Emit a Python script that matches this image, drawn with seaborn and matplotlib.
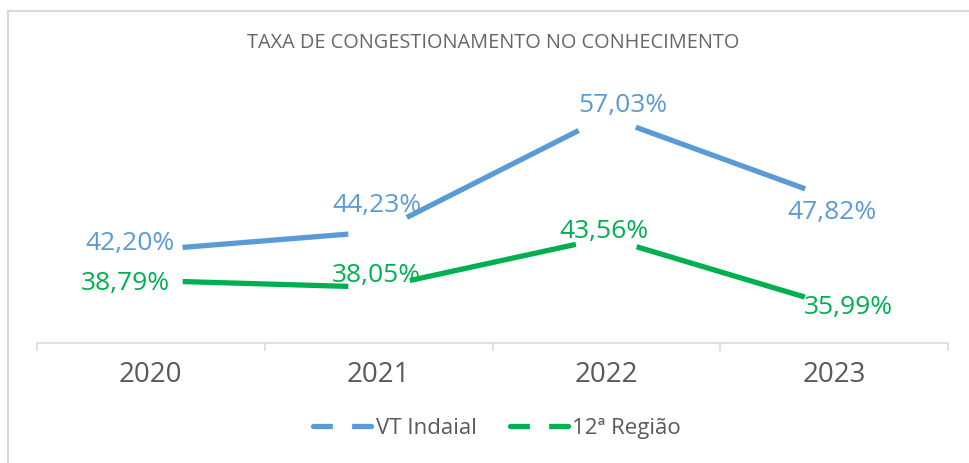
import matplotlib
matplotlib.use("Agg")
import matplotlib.pyplot as plt
from matplotlib.lines import Line2D
from matplotlib.patches import Rectangle
import seaborn as sns
import pandas as pd

# data
anos = ["2020", "2021", "2022", "2023"]
vt_indaial = [42.20, 44.23, 57.03, 47.82]
regiao_12 = [38.79, 38.05, 43.56, 35.99]
series = ["VT Indaial", "12ª Região"]
cores = ["#5B9BD5", "#00B050"]

# label offsets in pixels (dx, dy) relative to each point
off_vt = [(-21, 0), (-2, 20), (16, 4), (-2, -20)]
off_12 = [(-26, -9), (-2, 5), (-2, 0), (14, -8)]

df = pd.DataFrame({
    "ano": anos * 2,
    "valor": vt_indaial + regiao_12,
    "serie": [series[0]] * 4 + [series[1]] * 4,
})

sns.set_theme(style="white")
plt.rcParams["font.family"] = ["Open Sans", "DejaVu Sans"]

fig = plt.figure(figsize=(9.69, 4.63), dpi=100)
ax = fig.add_axes([37 / 969, 120 / 463, 911 / 969, 267 / 463])

sns.lineplot(data=df, x="ano", y="valor", hue="serie", palette=cores,
             marker="o", markersize=45, markerfacecolor="white",
             markeredgewidth=0, linewidth=3.8, legend=False, ax=ax)

# data labels
for vals, offs, cor in [(vt_indaial, off_vt, cores[0]), (regiao_12, off_12, cores[1])]:
    for i, (v, (dx, dy)) in enumerate(zip(vals, offs)):
        txt = f"{v:.2f}".replace(".", ",") + "%"
        ax.annotate(txt, (i, v), xytext=(dx, dy), textcoords="offset pixels",
                    ha="center", va="baseline", color=cor, fontsize=19, zorder=5)

ax.set_xlim(-0.5, 3.5)
ax.set_ylim(31.86, 61.53)
ax.set_xlabel("")
ax.set_ylabel("")
ax.set_yticks([])
for s in ["top", "right", "left"]:
    ax.spines[s].set_visible(False)
ax.spines["bottom"].set_color("#d9d9d9")
ax.spines["bottom"].set_linewidth(1.2)
ax.set_xticks(range(len(anos)))
ax.set_xticklabels(anos)
ax.set_xticks([-0.5, 0.5, 1.5, 2.5, 3.5], minor=True)
ax.tick_params(axis="x", which="major", length=0, pad=13, labelsize=20, labelcolor="#595959")
ax.tick_params(axis="x", which="minor", length=6, width=1.2, color="#d9d9d9", bottom=True)

fig.text(493 / 969, 1 - 43 / 463, "TAXA DE CONGESTIONAMENTO NO CONHECIMENTO",
         ha="center", va="center", fontsize=14.3, color="#666666")

handles = [Line2D([0], [0], color=c, lw=3.8, marker="o", markersize=14,
                  markerfacecolor="white", markeredgewidth=0, solid_capstyle="round")
           for c in cores]
fig.legend(handles, series, loc="center", bbox_to_anchor=(497 / 969, 1 - 428 / 463),
           ncol=2, frameon=False, fontsize=16, handlelength=2.6, handletextpad=0.2,
           columnspacing=1.5, labelcolor="#595959")

# chart frame
fig.patches.append(Rectangle((8 / 969, -0.1), 1.2, (463 - 11) / 463 + 0.1,
                             transform=fig.transFigure, fill=False,
                             edgecolor="#d9d9d9", linewidth=1.5))

fig.savefig("out.png", dpi=100)
